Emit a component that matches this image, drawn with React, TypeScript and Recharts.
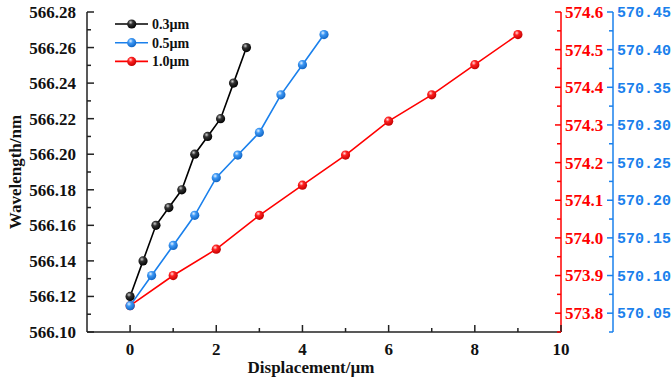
import React from 'react';
import { LineChart, Line, XAxis, YAxis, Label } from 'recharts';

// displacement (µm) and wavelength (nm) for each grating period
const disp03 = [0, 0.3, 0.6, 0.9, 1.2, 1.5, 1.8, 2.1, 2.4, 2.7];
const wl03 = [566.12, 566.14, 566.16, 566.17, 566.18, 566.2, 566.21, 566.22, 566.24, 566.26];
const disp05 = [0, 0.5, 1, 1.5, 2, 2.5, 3, 3.5, 4, 4.5];
const wl05 = [570.06, 570.1, 570.14, 570.18, 570.23, 570.26, 570.29, 570.34, 570.38, 570.42];
const disp10 = [0, 1, 2, 3, 4, 5, 6, 7, 8, 9];
const wl10 = [573.82, 573.9, 573.97, 574.06, 574.14, 574.22, 574.31, 574.38, 574.46, 574.54];

const seriesNames = ['0.3µm', '0.5µm', '1.0µm'];

const xTicks = [0, 1, 2, 3, 4, 5, 6, 7, 8, 9, 10];
const xMajor = [0, 2, 4, 6, 8, 10];
const leftTicks = [566.1, 566.11, 566.12, 566.13, 566.14, 566.15, 566.16, 566.17, 566.18, 566.19, 566.2, 566.21, 566.22, 566.23, 566.24, 566.25, 566.26, 566.27, 566.28];
const leftMajor = [566.1, 566.12, 566.14, 566.16, 566.18, 566.2, 566.22, 566.24, 566.26, 566.28];
const redTicks = [573.75, 573.8, 573.85, 573.9, 573.95, 574.0, 574.05, 574.1, 574.15, 574.2, 574.25, 574.3, 574.35, 574.4, 574.45, 574.5, 574.55, 574.6];
const redMajor = [573.8, 573.9, 574.0, 574.1, 574.2, 574.3, 574.4, 574.5, 574.6];
const blueTicks = [570.025, 570.05, 570.075, 570.1, 570.125, 570.15, 570.175, 570.2, 570.225, 570.25, 570.275, 570.3, 570.325, 570.35, 570.375, 570.4, 570.425, 570.45];
const blueMajor = [570.05, 570.1, 570.15, 570.2, 570.25, 570.3, 570.35, 570.4, 570.45];

const BLACK = '#000000';
const BLUE = '#1a80ec';
const RED = '#ff0000';
const AXIS = '#222222';
const SERIF = '"Liberation Serif", "Times New Roman", serif';

const s03 = disp03.map((x, i) => ({ x, y: wl03[i] }));
const s05 = disp05.map((x, i) => ({ x, y: wl05[i] }));
const s10 = disp10.map((x, i) => ({ x, y: wl10[i] }));

const isMajor = (v: number, list: number[]) => list.some((m) => Math.abs(m - v) < 1e-6);

const LeftTick = (props: any) => {
  const { x, y, payload } = props;
  const ax = x + 11;
  const major = isMajor(payload.value, leftMajor);
  return (
    <g>
      <line x1={ax} x2={ax + (major ? 7 : 4)} y1={y} y2={y} stroke={AXIS} strokeWidth={1.5} />
      {major && (
        <text x={x} y={y} dy="0.35em" textAnchor="end" fontFamily={SERIF} fontWeight="bold" fontSize={17} fill="#111">
          {payload.value.toFixed(2)}
        </text>
      )}
    </g>
  );
};

const RedTick = (props: any) => {
  const { x, y, payload } = props;
  const ax = x - 4;
  const major = isMajor(payload.value, redMajor);
  return (
    <g>
      <line x1={ax} x2={ax - (major ? 6 : 4)} y1={y} y2={y} stroke={RED} strokeWidth={1.5} />
      {major && (
        <text x={x} y={y} dy="0.35em" textAnchor="start" fontFamily={SERIF} fontWeight="bold" fontSize={17} fill={RED}>
          {payload.value.toFixed(1)}
        </text>
      )}
    </g>
  );
};

const BlueTick = (props: any) => {
  const { x, y, payload } = props;
  const ax = x - 4;
  const major = isMajor(payload.value, blueMajor);
  return (
    <g>
      <line x1={ax} x2={ax - (major ? 6 : 4)} y1={y} y2={y} stroke={BLUE} strokeWidth={1.5} />
      {major && (
        <text x={x} y={y} dy="0.35em" textAnchor="start" fontFamily='"Liberation Mono", "DejaVu Sans Mono", monospace' fontWeight="bold" fontSize={15} fill={BLUE}>
          {payload.value.toFixed(2)}
        </text>
      )}
    </g>
  );
};

const BottomTick = (props: any) => {
  const { x, y, payload } = props;
  const major = isMajor(payload.value, xMajor);
  return (
    <g>
      <line x1={x} x2={x} y1={y} y2={y - (major ? 7 : 4)} stroke={AXIS} strokeWidth={1.5} />
      {major && (
        <text x={x} y={y + 17} dy="0.35em" textAnchor="middle" fontFamily={SERIF} fontWeight="bold" fontSize={17} fill="#111">
          {payload.value}
        </text>
      )}
    </g>
  );
};

const ball = (grad: string) => (p: any) => (
  <circle key={p.index} cx={p.cx} cy={p.cy} r={4.6} fill={`url(#${grad})`} />
);

const legendItems = [
  { name: seriesNames[0], color: BLACK, grad: 'gBlack' },
  { name: seriesNames[1], color: BLUE, grad: 'gBlue' },
  { name: seriesNames[2], color: RED, grad: 'gRed' },
];

const Gradients = () => (
  <defs>
    <radialGradient id="gBlack" cx="0.38" cy="0.32" r="0.7">
      <stop offset="0%" stopColor="#d0d0d0" />
      <stop offset="35%" stopColor="#333" />
      <stop offset="100%" stopColor="#000" />
    </radialGradient>
    <radialGradient id="gBlue" cx="0.38" cy="0.32" r="0.7">
      <stop offset="0%" stopColor="#e6f3ff" />
      <stop offset="35%" stopColor="#3d98f5" />
      <stop offset="100%" stopColor="#0f63c2" />
    </radialGradient>
    <radialGradient id="gRed" cx="0.38" cy="0.32" r="0.7">
      <stop offset="0%" stopColor="#ffe0e0" />
      <stop offset="35%" stopColor="#ff2020" />
      <stop offset="100%" stopColor="#c00000" />
    </radialGradient>
  </defs>
);

export default function App() {
  return (
    <div style={{ position: 'absolute', left: 0, top: 0, width: 672, height: 382, background: '#fff' }}>
      <LineChart width={672} height={382} margin={{ top: 12, right: 0, bottom: 0, left: 0 }}>
        <Gradients />
        <XAxis
          dataKey="x"
          type="number"
          domain={[-1, 10]}
          allowDataOverflow
          ticks={xTicks}
          interval={0}
          height={50}
          tickSize={0}
          tickMargin={0}
          tickLine={false}
          tick={<BottomTick />}
          axisLine={{ stroke: AXIS, strokeWidth: 1.5 }}
        >
          <Label
            content={(p: any) => (
              <text
                x={p.viewBox.x + p.viewBox.width / 2 - 13}
                y={p.viewBox.y + 35}
                dy="0.35em"
                textAnchor="middle"
                fontFamily={SERIF}
                fontWeight="bold"
                fontSize={17}
                fill="#111"
              >
                Displacement/µm
              </text>
            )}
          />
        </XAxis>
        <YAxis
          yAxisId="left"
          type="number"
          domain={[566.1, 566.28]}
          allowDataOverflow
          ticks={leftTicks}
          interval={0}
          width={87}
          tickSize={0}
          tickMargin={11}
          tickLine={false}
          tick={<LeftTick />}
          axisLine={{ stroke: AXIS, strokeWidth: 1.5 }}
        >
          <Label
            content={(p: any) => (
              <text
                x={15}
                y={p.viewBox.y + p.viewBox.height / 2}
                transform={`rotate(-90, 15, ${p.viewBox.y + p.viewBox.height / 2})`}
                dy="0.35em"
                textAnchor="middle"
                fontFamily={SERIF}
                fontWeight="bold"
                fontSize={17}
                fill="#111"
              >
                Wavelength/nm
              </text>
            )}
          />
        </YAxis>
        <YAxis
          yAxisId="r1"
          orientation="right"
          type="number"
          domain={[573.75, 574.6]}
          allowDataOverflow
          ticks={redTicks}
          interval={0}
          width={52}
          tickSize={0}
          tickMargin={4}
          tickLine={false}
          tick={<RedTick />}
          axisLine={{ stroke: RED, strokeWidth: 1.5 }}
        />
        <YAxis
          yAxisId="r2"
          orientation="right"
          type="number"
          domain={[570.025, 570.45]}
          allowDataOverflow
          ticks={blueTicks}
          interval={0}
          width={59}
          tickSize={0}
          tickMargin={4}
          tickLine={false}
          tick={<BlueTick />}
          axisLine={{ stroke: BLUE, strokeWidth: 1.5 }}
        />
        <Line data={s10} dataKey="y" yAxisId="r1" stroke={RED} strokeWidth={1.6} dot={ball('gRed')} activeDot={false} isAnimationActive={false} />
        <Line data={s05} dataKey="y" yAxisId="r2" stroke={BLUE} strokeWidth={1.6} dot={ball('gBlue')} activeDot={false} isAnimationActive={false} />
        <Line data={s03} dataKey="y" yAxisId="left" stroke={BLACK} strokeWidth={1.6} dot={ball('gBlack')} activeDot={false} isAnimationActive={false} />
      </LineChart>
      <svg style={{ position: 'absolute', left: 110, top: 12 }} width={90} height={62}>
        <Gradients />
        {legendItems.map((it, i) => {
          const cy = 12 + i * 18.7;
          return (
            <g key={it.name}>
              <line x1={5} x2={38} y1={cy} y2={cy} stroke={it.color} strokeWidth={1.6} />
              <circle cx={21.7} cy={cy} r={4.6} fill={`url(#${it.grad})`} />
              <text x={42} y={cy} dy="0.35em" fontFamily={SERIF} fontWeight="bold" fontSize={14} fill="#111">
                {it.name}
              </text>
            </g>
          );
        })}
      </svg>
    </div>
  );
}
